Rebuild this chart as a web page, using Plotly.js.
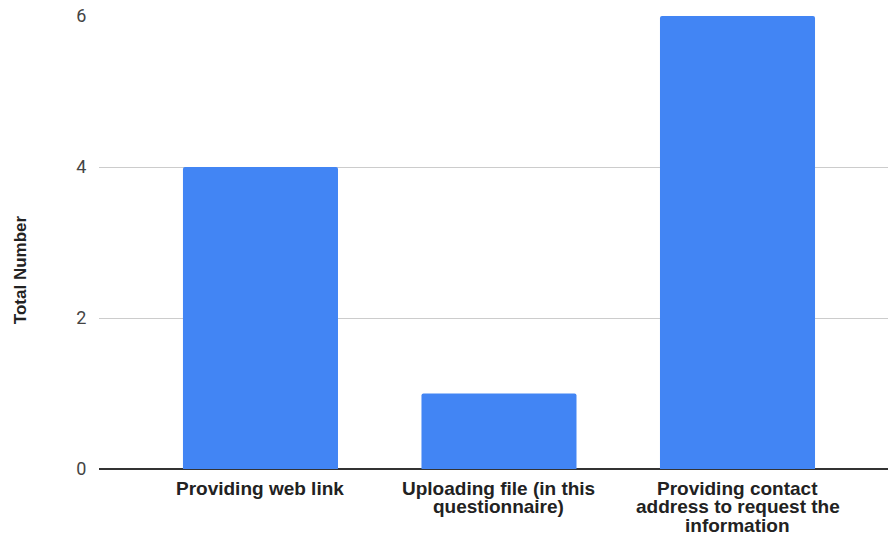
<!DOCTYPE html>
<html>
<head>
<meta charset="utf-8">
<script src="https://cdn.plot.ly/plotly-3.0.1.min.js"></script>
<style>
  html, body { margin: 0; padding: 0; background: #fff; }
  #chart { width: 888px; height: 535px; }
</style>
</head>
<body>
<div id="chart"></div>
<script>
// Ways of sharing the information, and how many respondents chose each
const categories = [
  "Providing web link",
  "Uploading file (in this<br>questionnaire)",
  "Providing contact<br>address to request the<br>information"
];
const totals = [4, 1, 6];
const yTickValues = [0, 2, 4, 6];
const yTickLabels = ["0", "2", "4", "6"];
const yAxisTitle = "Total Number";

const labelFont = { family: "Liberation Sans, Arial, sans-serif", size: 19, color: "#222222", weight: "bold" };
const lineGap = 18.5;

const xPositions = categories.map((_, i) => i);

const trace = {
  type: "bar",
  x: xPositions,
  y: totals,
  width: 0.65,
  marker: { color: "#4285F4" },
  hoverinfo: "skip"
};

// Category labels: one annotation per line so the lines sit close together
const categoryLabels = [];
categories.forEach((label, i) => {
  label.split("<br>").forEach((line, k) => {
    categoryLabels.push({
      text: line,
      xref: "x", yref: "y",
      x: xPositions[i], y: 0,
      xanchor: "center", yanchor: "middle",
      yshift: -(19 + k * lineGap),
      showarrow: false,
      font: labelFont
    });
  });
});

const layout = {
  width: 888,
  height: 535,
  margin: { l: 99, r: 0, t: 16, b: 66 },
  paper_bgcolor: "#ffffff",
  plot_bgcolor: "#ffffff",
  showlegend: false,
  barcornerradius: 2,
  xaxis: {
    range: [-0.677, 2.631],
    tickvals: xPositions,
    showticklabels: false,
    showgrid: false,
    zeroline: false,
    showline: false,
    ticks: ""
  },
  yaxis: {
    range: [0, 6],
    tickvals: yTickValues,
    ticktext: yTickLabels,
    showgrid: true,
    gridcolor: "#cccccc",
    gridwidth: 1,
    zeroline: true,
    zerolinecolor: "#333333",
    zerolinewidth: 1.5,
    showline: false,
    ticks: "outside",
    ticklen: 8,
    tickcolor: "rgba(0,0,0,0)",
    tickfont: { family: "Roboto, Arial, sans-serif", size: 18, color: "#444444" }
  },
  annotations: [{
    text: yAxisTitle,
    xref: "paper", yref: "paper",
    x: -0.1001, y: 0.439,
    xanchor: "center", yanchor: "middle",
    textangle: -90,
    showarrow: false,
    font: { family: "Liberation Sans, Arial, sans-serif", size: 17, color: "#222222", weight: "bold" }
  }].concat(categoryLabels)
};

Plotly.newPlot("chart", [trace], layout, { staticPlot: true, displayModeBar: false });
</script>
</body>
</html>
